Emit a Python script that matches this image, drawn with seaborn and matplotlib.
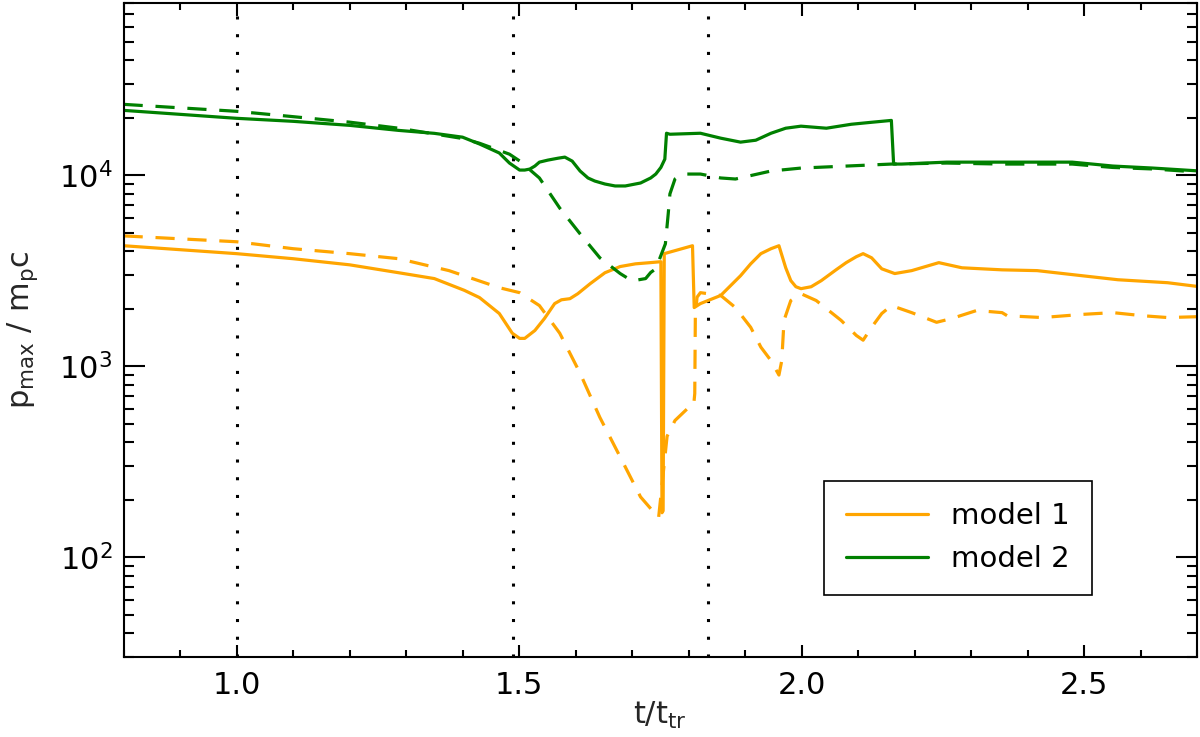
import numpy as np
import pandas as pd
import matplotlib
matplotlib.use("Agg")
import matplotlib.pyplot as plt
from matplotlib.ticker import MultipleLocator, LogLocator, NullFormatter
from matplotlib.lines import Line2D
import seaborn as sns

# ---------------- data ----------------
# model 2, solid
m2_solid_t = [0.800, 1.000, 1.100, 1.200, 1.287, 1.350, 1.400, 1.430, 1.465, 1.483,
              1.501, 1.510, 1.519, 1.528, 1.536, 1.551, 1.569, 1.581, 1.594, 1.608,
              1.622, 1.634, 1.652, 1.670, 1.688, 1.715, 1.733, 1.742, 1.751, 1.758,
              1.761, 1.767, 1.821, 1.857, 1.892, 1.919, 1.946, 1.972, 1.999, 2.044,
              2.088, 2.124, 2.159, 2.163, 2.177, 2.257, 2.355, 2.479, 2.551, 2.622,
              2.705]
m2_solid_p = [21900, 19900, 19190, 18280, 17200, 16600, 15850, 14600, 13100, 11600,
              10660, 10660, 10790, 11190, 11730, 12020, 12300, 12460, 11880, 10540,
              9690, 9340, 9010, 8800, 8800, 9120, 9690, 10160, 11000, 12160,
              16620, 16420, 16620, 15660, 14930, 15280, 16620, 17660, 18100, 17660,
              18520, 18970, 19400, 11460, 11460, 11730, 11730, 11730, 11190, 10920,
              10540]

# model 2, dashed
m2_dash_t = [0.800, 1.000, 1.100, 1.200, 1.287, 1.400, 1.430, 1.483, 1.501, 1.536,
             1.572, 1.608, 1.643, 1.679, 1.700, 1.724, 1.733, 1.742, 1.759, 1.764,
             1.767, 1.776, 1.786, 1.794, 1.821, 1.857, 1.883, 1.946, 1.999, 2.159,
             2.257, 2.355, 2.479, 2.551, 2.622, 2.705]
m2_dash_p = [23550, 21650, 20300, 19000, 17660, 15600, 14730, 12910, 11900, 9690,
             6740, 4940, 3700, 3060, 2800, 2880, 3100, 3240, 4380, 6280,
             7990, 9570, 10000, 10160, 10160, 9690, 9570, 10540, 10920, 11460,
             11600, 11460, 11460, 11000, 10800, 10400]

# model 1, solid
m1_solid_t = [0.800, 1.000, 1.100, 1.200, 1.287, 1.350, 1.403, 1.430, 1.465, 1.488,
              1.501, 1.510, 1.528, 1.545, 1.563, 1.575, 1.590, 1.604, 1.626, 1.652,
              1.679, 1.706, 1.732, 1.751, 1.753, 1.755, 1.757, 1.807, 1.810, 1.821,
              1.857, 1.892, 1.910, 1.928, 1.946, 1.960, 1.972, 1.981, 1.990, 1.999,
              2.017, 2.035, 2.061, 2.079, 2.097, 2.109, 2.124, 2.142, 2.165, 2.195,
              2.243, 2.284, 2.355, 2.417, 2.497, 2.560, 2.648, 2.705]
m1_solid_p = [4280, 3890, 3660, 3400, 3090, 2880, 2500, 2290, 1890, 1490,
              1400, 1400, 1540, 1780, 2130, 2230, 2260, 2400, 2710, 3090,
              3330, 3440, 3490, 3530, 171, 175, 3890, 4280, 2030, 2130,
              2350, 2980, 3440, 3890, 4130, 4280, 3280, 2810, 2610, 2550,
              2610, 2810, 3200, 3490, 3750, 3890, 3700, 3240, 3060, 3170,
              3490, 3280, 3200, 3170, 2980, 2840, 2740, 2610]

# model 1, dashed
m1_dash_t = [0.800, 1.000, 1.100, 1.200, 1.287, 1.376, 1.465, 1.501, 1.536, 1.572,
             1.608, 1.643, 1.679, 1.715, 1.747, 1.762, 1.776, 1.798, 1.809, 1.811,
             1.812, 1.815, 1.821, 1.857, 1.883, 1.910, 1.928, 1.946, 1.960, 1.965,
             1.969, 1.981, 1.999, 2.026, 2.070, 2.097, 2.109, 2.124, 2.142, 2.159,
             2.195, 2.239, 2.266, 2.310, 2.355, 2.364, 2.426, 2.497, 2.551, 2.604,
             2.648, 2.705]
m1_dash_p = [4820, 4490, 4130, 3890, 3660, 3170, 2580, 2430, 2080, 1490,
             920, 540, 335, 207, 161, 430, 520, 600, 620, 720,
             1800, 2300, 2430, 2350, 2030, 1600, 1260, 1070, 900, 1070,
             1740, 2210, 2400, 2210, 1740, 1450, 1370, 1600, 1890, 2080,
             1910, 1700, 1780, 1960, 1910, 1840, 1800, 1870, 1910, 1840,
             1800, 1820]

vlines_t = [1.0, 1.49, 1.834]
models = ["model 1", "model 2"]
colors = {"model 1": "#FFA500", "model 2": "#008000"}

# ---------------- build long table ----------------
frames = []
for model, kind, t, p in [("model 1", "solid", m1_solid_t, m1_solid_p),
                          ("model 1", "dashed", m1_dash_t, m1_dash_p),
                          ("model 2", "solid", m2_solid_t, m2_solid_p),
                          ("model 2", "dashed", m2_dash_t, m2_dash_p)]:
    frames.append(pd.DataFrame({"t": t, "p": p, "model": model, "kind": kind}))
df = pd.concat(frames, ignore_index=True)

# ---------------- style ----------------
sns.set_style("ticks")
plt.rcParams["font.family"] = ["DejaVu Sans"]
plt.rcParams["mathtext.default"] = "regular"
plt.rcParams["axes.linewidth"] = 1.5

fig = plt.figure(figsize=(12, 7.37), dpi=100)
ax = fig.add_axes([0.103, 0.1085, 0.8945, 0.8875])

for (model, kind), sub in df.groupby(["model", "kind"]):
    sns.lineplot(data=sub, x="t", y="p", ax=ax, color=colors[model],
                 linewidth=2.3, estimator=None, sort=False, legend=False,
                 linestyle="-" if kind == "solid" else (0, (6, 4)))

for v in vlines_t:
    ax.axvline(v, color="black", linewidth=2.2, linestyle=(0, (1, 4.8)), zorder=0)

ax.set_yscale("log")
ax.set_xlim(0.8, 2.7)
ax.set_ylim(30, 8e4)

ax.xaxis.set_minor_locator(MultipleLocator(0.1))
ax.yaxis.set_major_locator(LogLocator(base=10, numticks=10))
ax.yaxis.set_minor_locator(LogLocator(base=10, subs=np.arange(2, 10), numticks=20))
ax.yaxis.set_minor_formatter(NullFormatter())
ax.set_xticks([1.0, 1.5, 2.0, 2.5])
ax.set_xticklabels(["1.0", "1.5", "2.0", "2.5"])

ax.tick_params(axis="both", which="both", direction="in", top=True, right=True,
               width=1.5, labelsize=22, colors="black")
ax.tick_params(axis="x", which="major", length=9, pad=10)
ax.tick_params(axis="x", which="minor", length=5)
ax.tick_params(axis="y", which="major", length=15, pad=8)
ax.tick_params(axis="y", which="minor", length=7)

ax.set_xlabel(r"$t/t_{tr}$", fontsize=22)
ax.set_ylabel(r"$p_{max}\ /\ m_pc$", fontsize=22)
ax.xaxis.set_label_coords(0.5, -0.066)
ax.yaxis.set_label_coords(-0.078, 0.5)

for s in ax.spines.values():
    s.set_linewidth(1.5)
    s.set_color("black")

handles = [Line2D([], [], color=colors[m], linewidth=2.3) for m in models]
leg = ax.legend(handles, models, loc="lower right", bbox_to_anchor=(0.902, 0.095),
                fontsize=21, frameon=True, fancybox=False, framealpha=1,
                edgecolor="black", handlelength=2.8, handletextpad=0.8,
                borderpad=0.75, labelspacing=0.5, borderaxespad=0)
leg.get_frame().set_linewidth(1.2)
for txt in leg.get_texts():
    txt.set_color("black")

fig.savefig("out.png", dpi=100)
